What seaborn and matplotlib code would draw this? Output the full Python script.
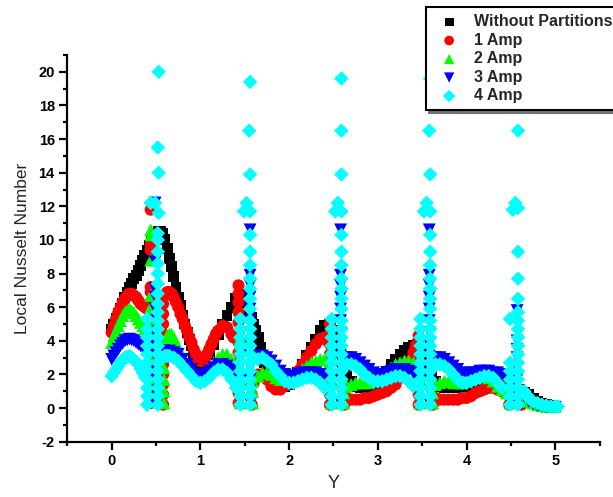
import matplotlib
matplotlib.use("Agg")
import matplotlib.pyplot as plt
import seaborn as sns
import pandas as pd
from matplotlib.ticker import MultipleLocator

# ---------------- data ----------------
labels = ["Without Partitions", "1 Amp", "2 Amp", "3 Amp", "4 Amp"]

black_pts = [(0.000,4.7),(0.025,5.0),(0.050,5.3),(0.075,5.6),(0.100,5.9),(0.125,6.2),(0.150,6.6),(0.175,6.9),
    (0.200,7.2),(0.225,7.4),(0.250,7.7),(0.275,7.9),(0.300,8.2),(0.325,8.5),(0.350,8.8),(0.375,9.1),(0.400,9.4),
    (0.425,9.7),(0.450,10.0),(0.475,10.2),(0.500,10.4),(0.525,10.5),(0.550,10.5),(0.575,10.4),(0.600,10.0),
    (0.625,9.5),(0.650,8.9),(0.675,8.4),(0.700,7.8),(0.725,7.2),(0.750,6.6),(0.775,6.1),(0.800,5.5),(0.825,5.0),
    (0.850,4.5),(0.875,4.1),(0.900,3.7),(0.925,3.3),(0.950,3.0),(0.975,2.8),(1.000,2.6),(1.050,2.7),(1.100,3.2),
    (1.150,3.8),(1.200,4.4),(1.250,5.0),(1.300,5.5),(1.350,6.0),(1.400,6.5),(1.450,6.8),(1.500,6.5),(1.525,6.2),
    (1.550,5.8),(1.575,5.4),(1.600,5.0),(1.625,4.6),(1.650,4.2),(1.675,3.6),(1.700,3.1),(1.725,2.7),(1.750,2.3),
    (1.800,1.8),(1.850,1.5),(1.900,1.3),(1.950,1.3),(2.000,1.4),(2.050,1.7),(2.100,2.1),(2.150,2.6),(2.200,3.1),
    (2.250,3.6),(2.300,4.1),(2.350,4.6),(2.400,4.9),(2.450,5.0),(2.500,4.6),(2.525,4.2),(2.550,3.8),(2.575,3.3),
    (2.600,2.9),(2.625,2.5),(2.650,2.1),(2.700,1.6),(2.750,1.3),(2.800,1.2),(2.850,1.2),(2.900,1.2),(2.950,1.3),
    (3.000,1.5),(3.050,1.8),(3.100,2.2),(3.150,2.6),(3.200,2.9),(3.250,3.2),(3.300,3.4),(3.350,3.6),(3.400,3.7),
    (3.450,3.8),(3.500,3.4),(3.525,3.1),(3.550,2.8),(3.575,2.4),(3.600,2.1),(3.650,1.6),(3.700,1.3),(3.750,1.2),
    (3.800,1.2),(3.850,1.2),(3.900,1.2),(3.950,1.3),(4.000,1.3),(4.050,1.4),(4.100,1.5),(4.150,1.6),(4.200,1.7),
    (4.250,1.8),(4.300,1.8),(4.350,1.9),(4.400,1.9),(4.450,1.7),(4.500,1.5),(4.550,1.3),(4.600,1.1),(4.650,0.9),
    (4.700,0.8),(4.750,0.6),(4.800,0.4),(4.850,0.3),(4.900,0.2),(4.950,0.15),(5.000,0.1)]

red_pts = [(0.000,4.5),(0.025,4.9),(0.050,5.3),(0.075,5.7),(0.100,6.0),(0.125,6.3),(0.150,6.5),(0.175,6.7),
    (0.200,6.8),(0.225,6.8),(0.250,6.7),(0.275,6.6),(0.300,6.4),(0.325,6.2),(0.350,6.1),(0.375,6.0),(0.400,5.9),
    (0.600,6.7),(0.625,6.9),(0.650,6.9),(0.675,6.8),(0.700,6.6),(0.725,6.3),(0.750,6.0),(0.775,5.6),(0.800,5.3),
    (0.825,4.9),(0.850,4.6),(0.875,4.2),(0.900,3.9),(0.925,3.5),(0.950,3.2),(0.975,2.9),(1.000,2.8),(1.025,2.8),
    (1.050,2.9),(1.075,3.2),(1.100,3.5),(1.125,3.8),(1.150,4.1),(1.175,4.4),(1.200,4.6),(1.250,4.9),(1.300,4.8),
    (1.350,4.4),(1.375,4.2),
    (1.600,1.5),(1.625,1.9),(1.650,2.0),(1.700,2.0),(1.750,1.7),(1.800,1.3),(1.850,1.1),(1.900,1.1),(1.950,1.3),
    (2.000,1.5),(2.050,1.8),(2.100,2.2),(2.150,2.6),(2.200,3.0),(2.250,3.4),(2.300,3.8),(2.350,4.1),(2.400,4.2),
    (2.430,4.0),
    (2.650,0.6),(2.700,0.5),(2.750,0.5),(2.800,0.5),(2.850,0.6),(2.900,0.6),(2.950,0.7),(3.000,0.8),(3.050,0.9),
    (3.100,1.0),(3.150,1.2),(3.200,1.4),(3.250,1.8),(3.300,2.3),(3.350,2.8),(3.400,3.3),(3.425,3.7),(3.450,3.9),
    (3.650,0.6),(3.700,0.5),(3.750,0.5),(3.800,0.5),(3.850,0.5),(3.900,0.5),(3.950,0.6),(4.000,0.6),(4.050,0.7),
    (4.100,0.9),(4.150,1.0),(4.200,1.1),(4.250,1.2),(4.300,1.2),(4.350,1.1),(4.400,1.0),(4.450,0.9),
    (4.650,0.5),(4.700,0.4),(4.750,0.3),(4.800,0.2),(4.850,0.15),(4.900,0.1),(4.950,0.1),(5.000,0.1)]
red_col_x = [0.44, 0.58, 1.43, 1.58, 2.46, 2.62, 3.46, 3.62, 4.48, 4.62]
red_col_y = [[0.3,0.9,1.5,2.1,2.7,3.3,3.9,4.5,5.1,5.7,6.3,6.9,7.2,9.4,9.7,11.8],
             [0.2,0.8,1.4,2.0,2.6,3.2,3.8,4.4,5.0,5.6,6.2],
             [0.3,0.9,1.5,2.1,2.7,3.3,3.9,4.5,5.1,5.7,6.3,6.8,7.3],
             [0.2,0.8,1.4],
             [0.2,0.8,1.4,2.0,2.6,3.2,3.8,4.4,5.0],
             [0.2,0.6],
             [0.2,0.8,1.4,2.0,2.6,3.2,3.8,4.3],
             [0.2],
             [0.2,0.8,1.4],
             [0.2]]

green_pts = [(0.000,3.9),(0.025,4.3),(0.050,4.6),(0.075,4.9),(0.100,5.2),(0.125,5.5),(0.150,5.7),(0.175,5.8),
    (0.200,5.9),(0.225,5.8),(0.250,5.7),(0.275,5.5),(0.300,5.3),(0.325,5.1),(0.350,4.9),(0.375,4.7),(0.400,4.5),
    (0.600,4.0),(0.625,4.3),(0.650,4.4),(0.675,4.4),(0.700,4.2),(0.725,3.9),(0.750,3.6),(0.775,3.3),(0.800,3.0),
    (0.850,2.5),(0.900,2.2),(0.950,2.0),(1.000,1.9),(1.050,2.0),(1.100,2.3),(1.150,2.7),(1.200,3.0),(1.250,3.2),
    (1.300,3.2),(1.350,2.9),(1.400,2.5),
    (1.650,1.9),(1.700,2.1),(1.750,2.1),(1.800,2.0),(1.850,1.8),(1.900,1.7),(1.950,1.7),(2.000,1.8),(2.050,1.9),
    (2.100,2.1),(2.150,2.3),(2.200,2.5),(2.250,2.7),(2.300,2.8),(2.350,2.9),(2.400,2.9),(2.450,2.6),
    (2.650,1.3),(2.700,1.4),(2.750,1.5),(2.800,1.5),(2.850,1.5),(2.900,1.5),(2.950,1.6),(3.000,1.7),(3.050,1.9),
    (3.100,2.1),(3.150,2.4),(3.200,2.6),(3.250,2.7),(3.300,2.8),(3.350,2.8),(3.400,2.7),(3.450,2.4),
    (3.650,1.4),(3.700,1.5),(3.750,1.6),(3.800,1.6),(3.850,1.5),(3.900,1.5),(3.950,1.5),(4.000,1.6),(4.050,1.7),
    (4.100,1.8),(4.150,1.9),(4.200,1.9),(4.250,1.8),(4.300,1.6),(4.350,1.3),(4.400,1.1),(4.450,0.9),
    (4.620,0.7),(4.650,0.6),(4.700,0.4),(4.750,0.3),(4.800,0.2),(4.850,0.15),(4.900,0.1),(4.950,0.1),(5.000,0.1)]
green_col_x = [0.44, 0.59, 1.45, 1.59, 2.48, 2.62, 3.48, 3.62, 4.49]
green_col_y = [[0.4,1.1,1.8,2.5,3.2,3.9,4.6,5.3,6.0,6.7,8.8,10.3,10.6],
               [0.3,1.0,1.7,2.4,3.1,3.7],
               [0.3,1.0,1.7,2.4,3.1,3.8,4.2],
               [0.3,1.0,1.6],
               [0.3,1.0,1.7,2.4,3.1,3.6],
               [0.3,0.9],
               [0.3,1.0,1.7,2.4,3.0],
               [0.3,0.9],
               [0.3,0.9]]

blue_pts = [(0.000,2.9),(0.025,3.1),(0.050,3.3),(0.075,3.5),(0.100,3.7),(0.125,3.85),(0.150,4.0),(0.175,4.05),
    (0.200,4.1),(0.225,4.05),(0.250,4.0),(0.275,3.9),(0.300,3.8),(0.325,3.7),(0.350,3.6),(0.375,3.45),(0.400,3.3),
    (0.600,3.4),(0.650,3.4),(0.700,3.3),(0.750,3.2),(0.800,2.9),(0.850,2.6),(0.900,2.3),(0.950,2.0),(1.000,1.9),
    (1.050,2.0),(1.100,2.2),(1.150,2.4),(1.200,2.6),(1.250,2.6),(1.300,2.5),(1.350,2.3),(1.400,2.0),(1.450,1.6),
    (1.650,3.1),(1.700,3.1),(1.750,3.0),(1.800,2.8),(1.850,2.5),(1.900,2.2),(1.950,2.0),(2.000,1.9),(2.050,1.9),
    (2.100,2.0),(2.150,2.1),(2.200,2.1),(2.250,2.1),(2.300,2.1),(2.350,2.0),(2.400,1.9),(2.450,1.7),
    (2.650,3.0),(2.700,3.0),(2.750,2.9),(2.800,2.7),(2.850,2.5),(2.900,2.3),(2.950,2.1),(3.000,2.0),(3.050,2.0),
    (3.100,2.1),(3.150,2.2),(3.200,2.3),(3.250,2.3),(3.300,2.3),(3.350,2.2),(3.400,2.1),(3.450,1.9),
    (3.650,3.0),(3.700,3.0),(3.750,2.9),(3.800,2.7),(3.850,2.5),(3.900,2.3),(3.950,2.1),(4.000,2.0),(4.050,2.1),
    (4.100,2.1),(4.150,2.2),(4.200,2.2),(4.250,2.2),(4.300,2.1),(4.350,2.1),(4.400,2.0),(4.450,1.9),(4.500,1.5),
    (4.650,0.7),(4.700,0.4),(4.750,0.25),(4.800,0.15),(4.850,0.1),(4.900,0.05),(4.950,0.05),(5.000,0.05)]
blue_col_x = [0.49, 1.56, 2.58, 3.58, 4.57]
blue_col_y = [[0.3,1.0,1.7,2.4,3.1,3.8,4.5,5.2,5.9,6.6,7.1,8.7,12.2],
              [0.3,1.0,1.7,2.4,3.1,3.8,4.5,5.2,5.9,6.6,7.3,7.9,10.6],
              [0.3,1.0,1.7,2.4,3.1,3.8,4.5,5.2,5.9,6.6,7.3,7.9,10.6],
              [0.3,1.0,1.7,2.4,3.1,3.8,4.5,5.2,5.9,6.6,7.3,7.9,10.6],
              [0.3,1.0,1.7,2.4,3.0,3.5,4.0,5.8]]

cyan_pts = [(0.000,1.9),(0.025,2.1),(0.050,2.3),(0.075,2.5),(0.100,2.7),(0.125,2.85),(0.150,3.0),(0.175,3.05),
    (0.200,3.1),(0.225,3.0),(0.250,2.9),(0.275,2.75),(0.300,2.6),(0.325,2.35),(0.350,2.1),(0.375,1.85),
    (0.600,3.1),(0.625,3.1),(0.650,3.1),(0.700,3.0),(0.750,2.8),(0.800,2.5),(0.850,2.2),(0.900,1.9),(0.950,1.6),
    (1.000,1.5),(1.050,1.6),(1.100,1.8),(1.150,2.1),(1.200,2.3),(1.250,2.3),(1.300,2.1),(1.350,1.7),(1.400,1.2),
    (1.650,2.9),(1.700,3.0),(1.750,2.8),(1.800,2.6),(1.850,2.2),(1.900,1.9),(1.950,1.6),(2.000,1.5),(2.050,1.5),
    (2.100,1.6),(2.150,1.7),(2.200,1.8),(2.250,1.8),(2.300,1.7),(2.350,1.5),(2.400,1.2),
    (2.650,2.6),(2.700,2.6),(2.750,2.5),(2.800,2.3),(2.850,2.0),(2.900,1.8),(2.950,1.6),(3.000,1.6),(3.050,1.6),
    (3.100,1.7),(3.150,1.8),(3.200,1.9),(3.250,1.9),(3.300,1.8),(3.350,1.6),(3.400,1.3),
    (3.650,2.6),(3.700,2.6),(3.750,2.5),(3.800,2.3),(3.850,2.0),(3.900,1.7),(3.950,1.5),(4.000,1.5),(4.050,1.6),
    (4.100,1.7),(4.150,1.8),(4.200,1.9),(4.250,1.9),(4.300,1.8),(4.350,1.5),(4.400,1.2),
    (4.650,1.0),(4.675,0.8),(4.700,0.6),(4.750,0.4),(4.800,0.3),(4.850,0.2),(4.900,0.15),(4.950,0.1),(5.000,0.1),
    (5.030,0.1),
    # isolated high values on the partitions
    (0.44,12.2),(0.49,12.2),(0.53,11.6),(0.53,14.0),(0.52,15.5),(0.53,20.0),
    (1.49,11.7),(1.52,12.2),(1.56,11.7),(1.56,13.9),(1.55,16.5),(1.56,19.4),
    (2.52,11.7),(2.55,12.2),(2.59,11.7),(2.59,13.9),(2.59,16.5),(2.59,19.6),
    (3.52,11.7),(3.55,12.2),(3.59,11.7),(3.59,13.9),(3.58,16.5),(3.59,19.6),
    (4.52,11.8),(4.55,12.2),(4.58,11.9),(4.58,16.5)]
cyan_col_x = [0.40, 0.52, 1.45, 1.56, 2.48, 2.59, 3.48, 3.59, 4.49, 4.58]
cyan_col_y = [[0.2,0.7,1.2,1.7,2.2,2.7,3.2,3.7,4.2,4.7,5.3],
              [0.2,0.7,1.2,1.7,2.2,2.7,3.2,3.7,4.2,4.7,5.2,5.7,6.2,6.8,7.4,8.0,8.6,9.3,10.0,10.4],
              [0.2,0.7,1.2,1.7,2.2,2.7,3.2,3.7,4.2,4.7,5.3],
              [0.2,0.7,1.2,1.7,2.2,2.7,3.2,3.7,4.2,4.7,5.2,5.9,6.5,7.1,7.7,8.5,9.3,10.3],
              [0.2,0.7,1.2,1.7,2.2,2.7,3.2,3.7,4.2,4.7,5.3],
              [0.2,0.7,1.2,1.7,2.2,2.7,3.2,3.7,4.2,4.7,5.2,5.9,6.5,7.1,7.7,8.5,9.3,10.3],
              [0.2,0.7,1.2,1.7,2.2,2.7,3.2,3.7,4.2,4.7,5.3],
              [0.2,0.7,1.2,1.7,2.2,2.7,3.2,3.7,4.2,4.7,5.2,5.9,6.5,7.1,7.7,8.5,9.3,10.3],
              [0.2,0.7,1.2,1.7,2.2,2.7,5.3],
              [0.2,0.7,1.2,1.7,2.2,2.7,3.2,3.7,4.2,4.7,5.2,5.7,6.5,7.7,9.3]]


def build(pts, col_x=None, col_y=None):
    xs = [p[0] for p in pts]
    ys = [p[1] for p in pts]
    if col_x is not None:
        for cx, cys in zip(col_x, col_y):
            xs += [cx] * len(cys)
            ys += list(cys)
    return pd.DataFrame({"Y": xs, "Nu": ys})


# (data, label, marker, colour, plot size, legend size)
series = [
    (build(black_pts), labels[0], "s", "#000000", 62, 40),
    (build(red_pts, red_col_x, red_col_y), labels[1], "o", "#FF0000", 75, 48),
    (build(green_pts, green_col_x, green_col_y), labels[2], "^", "#00FF00", 85, 55),
    (build(blue_pts, blue_col_x, blue_col_y), labels[3], "v", "#0000FF", 85, 55),
    (build(cyan_pts, cyan_col_x, cyan_col_y), labels[4], "D", "#00FFFF", 55, 40),
]

# ---------------- figure ----------------
sns.set_theme(style="ticks")
plt.rcParams["font.family"] = ["Liberation Sans", "DejaVu Sans"]
plt.rcParams["axes.unicode_minus"] = False

fig = plt.figure(figsize=(6.13, 4.97), dpi=100)
W, H = 613, 497
ax = fig.add_axes([67.3 / W, 1 - 441.7 / H, (599.6 - 67.3) / W, (441.7 - 55) / H])

for i, (df, lab, mk, col, sz, _) in enumerate(series):
    sns.scatterplot(data=df, x="Y", y="Nu", marker=mk, color=col, s=sz,
                    linewidth=0, edgecolor="none", ax=ax, label=lab, zorder=2 + i,
                    clip_on=False)

ax.set_xlim(-0.5, 5.5)
ax.set_ylim(-2, 21)
ax.xaxis.set_major_locator(MultipleLocator(1))
ax.xaxis.set_minor_locator(MultipleLocator(0.5))
ax.yaxis.set_major_locator(MultipleLocator(2))
ax.yaxis.set_minor_locator(MultipleLocator(1))

for side in ("top", "right"):
    ax.spines[side].set_visible(False)
for side in ("left", "bottom"):
    ax.spines[side].set_linewidth(1.6)
    ax.spines[side].set_color("black")

ax.tick_params(which="major", direction="out", length=6, width=1.6, colors="black",
               labelsize=10.5, pad=3)
ax.tick_params(which="minor", direction="out", length=3, width=1.6, colors="black")
for t in ax.get_xticklabels() + ax.get_yticklabels():
    t.set_fontweight("bold")

ax.set_xlabel("Y", fontsize=13, labelpad=5)
ax.set_ylabel("Local Nusselt Number", fontsize=12.5, labelpad=6)

handles, labs = ax.get_legend_handles_labels()
ax.get_legend().remove()
leg = fig.legend(handles, labs, loc="upper left", bbox_to_anchor=(426 / W, 1 - 7 / H),
                 borderaxespad=0, frameon=True, fancybox=False,
                 shadow={"color": "0.45", "alpha": 1.0},
                 prop={"weight": "bold", "size": 11.5},
                 borderpad=0.45, handlelength=2.0, handletextpad=0.55, labelspacing=0.22)
for h, s in zip(leg.legend_handles, [row[5] for row in series]):
    h.set_sizes([s])
leg.get_frame().set_edgecolor("black")
leg.get_frame().set_linewidth(1.5)
leg.get_frame().set_facecolor("white")
leg.get_frame().set_alpha(1)

fig.savefig("out.png", dpi=100, facecolor="white")
